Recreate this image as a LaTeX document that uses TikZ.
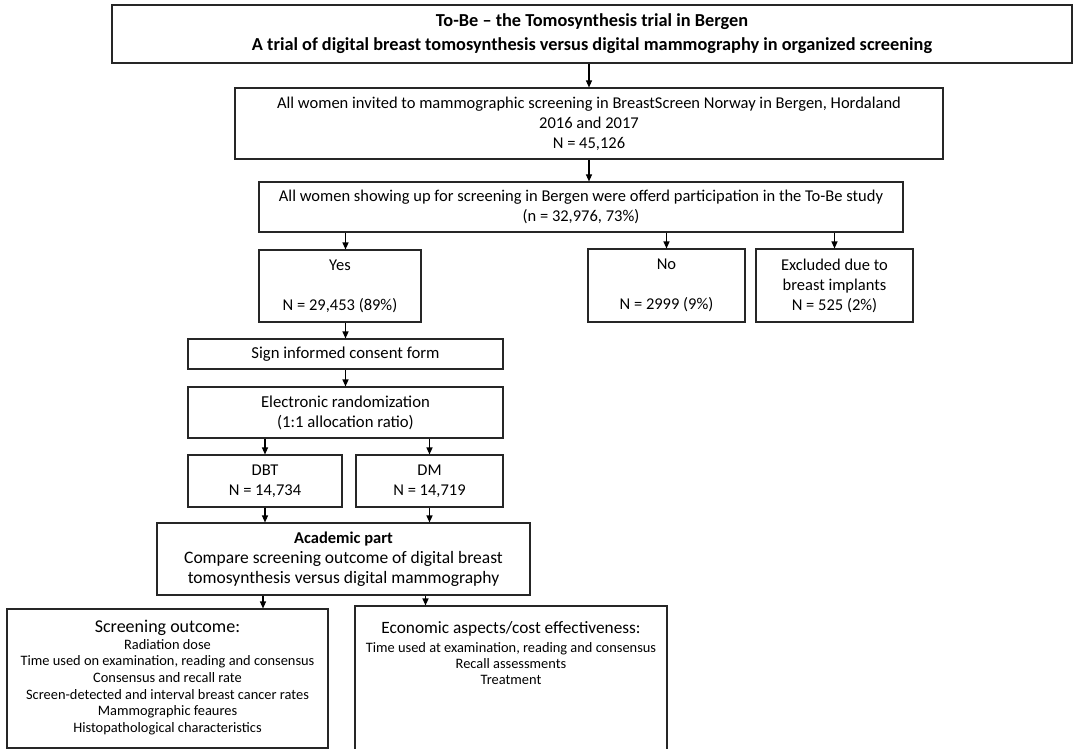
\documentclass[tikz,border=0pt]{standalone}
\usepackage{fontspec}
\setmainfont{Carlito}
\usetikzlibrary{arrows.meta,positioning}

\begin{document}
\begin{tikzpicture}[x=1pt, y=-1pt,
  box/.style={draw=black!85, line width=1.1pt, inner sep=2pt, align=center, font=\fontsize{16.5}{20}\selectfont},
  arr/.style={-{Triangle[length=7pt,width=6pt]}, line width=1.1pt, black}]
\useasboundingbox (0,0) rectangle (1074,749);
% trial header and recruitment
\node[box, minimum width=960pt, minimum height=58pt, font=\bfseries\fontsize{18.3}{24}\selectfont] (title) at (592,34) {To-Be -- the Tomosynthesis trial in Bergen\\A trial of digital breast tomosynthesis versus digital mammography in organized screening};
\node[box, minimum width=708pt, minimum height=71pt] (invited) at (589,123.5) {All women invited to mammographic screening in BreastScreen Norway in Bergen, Hordaland\\2016 and 2017\\N = 45,126};
\node[box, minimum width=644pt, minimum height=50pt] (offered) at (581,207) {All women showing up for screening in Bergen were offerd participation in the To-Be study\\(n = 32,976, 73\%)};
\node[box, minimum width=162pt, minimum height=72pt] (yes) at (340,286) {Yes\\[20pt]N = 29,453 (89\%)};
\node[box, minimum width=157pt, minimum height=73pt] (no) at (666.5,285.5) {No\\[20pt]N = 2999 (9\%)};
\node[box, minimum width=157pt, minimum height=73pt] (excl) at (834.5,285.5) {Excluded due to\\breast implants\\N = 525 (2\%)};
% consent and randomization
\node[box, minimum width=315pt, minimum height=30pt, font=\fontsize{16.7}{20}\selectfont] (consent) at (345.5,354) {Sign informed consent form};
\node[box, minimum width=315pt, minimum height=51pt, font=\fontsize{16.7}{20}\selectfont] (random) at (345.5,412.5) {Electronic randomization\\(1:1 allocation ratio)};
\node[box, minimum width=154pt, minimum height=52pt] (dbt) at (265,481) {DBT\\N = 14,734};
\node[box, minimum width=147pt, minimum height=52pt] (dm) at (429.5,481) {DM\\N = 14,719};
\node[box, minimum width=373pt, minimum height=72pt, font=\fontsize{17.5}{20}\selectfont] (academic) at (343.5,559) {{\fontsize{16.5}{20}\selectfont\bfseries Academic part}\\Compare screening outcome of digital breast\\tomosynthesis versus digital mammography};
% outcome lists
\node[box, minimum width=321pt, minimum height=139pt, inner sep=0pt] (outcome) at (167.5,678.5) {\parbox[c][139pt][t]{315pt}{\centering\vspace*{11pt}%
  {\fontsize{18}{19}\selectfont Screening outcome:\par}
  \fontsize{14.4}{16.7}\selectfont Radiation dose\\Time used on examination, reading and consensus\\Consensus and recall rate\\Screen-detected and interval breast cancer rates\\Mammographic feaures\\Histopathological characteristics}};
\node[box, minimum width=312pt, minimum height=160pt, inner sep=0pt] (economic) at (511,686) {\parbox[c][160pt][t]{306pt}{\centering\vspace*{15pt}%
  {\fontsize{17.3}{19}\selectfont Economic aspects/cost effectiveness:\par}\vspace{4pt}
  \fontsize{14.4}{15.8}\selectfont Time used at examination, reading and consensus\\Recall assessments\\Treatment}};
% connectors
\draw[arr] (title.south -| invited) -- (invited);
\draw[arr] (invited) -- (offered.north -| invited);
\draw[arr] (offered.south -| consent) -- (yes.north -| consent);
\draw[arr] (offered.south -| no) -- (no);
\draw[arr] (offered.south -| excl) -- (excl);
\draw[arr] (yes.south -| consent) -- (consent);
\draw[arr] (consent) -- (random);
\draw[arr] (random.south -| dbt) -- (dbt);
\draw[arr] (random.south -| dm) -- (dm);
\draw[arr] (dbt) -- (academic.north -| dbt);
\draw[arr] (dm) -- (academic.north -| dm);
\draw[arr] ([xshift=-2pt]academic.south -| dbt) -- ([xshift=-2pt]outcome.north -| dbt);
\draw[arr] ([xshift=-4pt]academic.south -| dm) -- ([xshift=-4pt]economic.north -| dm);
\end{tikzpicture}
\end{document}
